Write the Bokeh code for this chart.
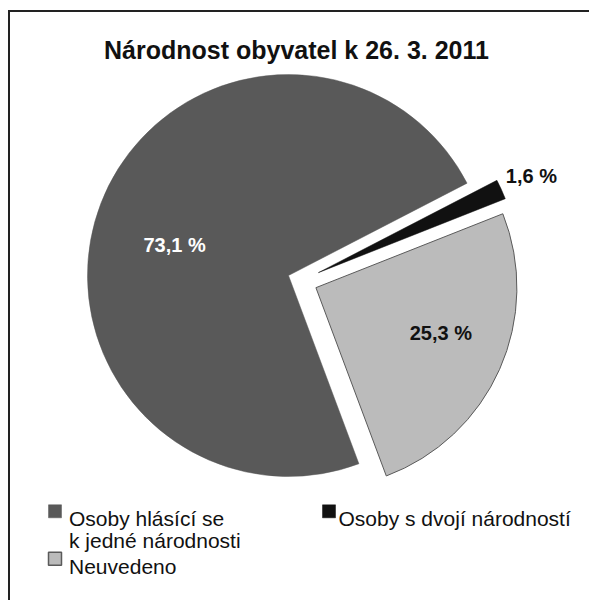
import math
from bokeh.plotting import figure
from bokeh.models import Range1d, ColumnDataSource
from bokeh.embed import file_html
from bokeh.resources import INLINE
from bokeh.core.properties import value

# ---------------- data ----------------
TITLE = "Národnost obyvatel k 26. 3. 2011"
categories = ["Osoby hlásící se k jedné národnosti", "Osoby s dvojí národností", "Neuvedeno"]
legend_lines = [["Osoby hlásící se", "k jedné národnosti"], ["Osoby s dvojí národností"], ["Neuvedeno"]]
shares = [73.1, 1.6, 25.3]
labels = ["73,1 %", "1,6 %", "25,3 %"]

# ---------------- style / layout ----------------
W, H = 589, 600
FONT = "Liberation Sans"
colors = ["#595959", "#111111", "#bbbbbb"]
outlines = [None, None, "#5a5a5a"]
label_colors = ["#ffffff", "#111111", "#111111"]

CX, CY = 280, 317          # pie centre
R = 201                    # pie radius
FIRST_ANGLE = 159.5        # first slice angle, clockwise from 12 o'clock
explode_dist = [0, 30, 30]
explode_turn = [0, -19, 0]
label_r = [118, 234, 133]
label_turn = [6.0, 0.0, 3.9]

p = figure(width=W, height=H, output_backend="svg", toolbar_location=None, title=None,
           x_range=Range1d(-8, W - 8), y_range=Range1d(-8, H - 8), min_border=0,
           x_axis_location=None, y_axis_location=None)
p.grid.visible = False
p.outline_line_color = None
p.background_fill_color = "white"
p.border_fill_color = "white"

# title
p.text(x=[288], y=[542.7], text=[TITLE], text_font=value(FONT), text_font_style="bold",
       text_font_size="25px", text_color="#111111", text_align="center",
       text_baseline="alphabetic")

# pie slices
total = sum(shares)
cum = 0.0
for i, s in enumerate(shares):
    a_start = 90 - FIRST_ANGLE - cum / total * 360.0   # clockwise start (math deg)
    a_end = a_start - s / total * 360.0
    mid = (a_start + a_end) / 2.0
    ed = math.radians(mid + explode_turn[i])
    ox = CX + explode_dist[i] * math.cos(ed)
    oy = CY + explode_dist[i] * math.sin(ed)
    src = ColumnDataSource(dict(x=[ox], y=[oy], sa=[math.radians(a_end)], ea=[math.radians(a_start)]))
    p.wedge(x="x", y="y", radius=R, start_angle="sa", end_angle="ea", source=src,
            fill_color=colors[i],
            line_color=outlines[i] if outlines[i] else colors[i],
            line_width=1 if outlines[i] else 0.5)
    la = math.radians(mid + label_turn[i])
    lx = ox + label_r[i] * math.cos(la)
    ly = oy + label_r[i] * math.sin(la)
    p.text(x=[lx], y=[ly], text=[labels[i]], text_font=value(FONT), text_font_style="bold",
           text_font_size="20px", text_color=label_colors[i], text_align="center",
           text_baseline="middle")
    cum += s

# legend
leg_sq_x = [46.5, 320.5, 46.5]
leg_row_base = [73.7, 73.7, 26.3]
leg_txt_x = [60.5, 330.0, 60.5]
LINE_H = 21.7
SQ = 13
for i in range(len(categories)):
    p.rect(x=[leg_sq_x[i]], y=[leg_row_base[i] + 1 + SQ / 2], width=SQ, height=SQ,
           fill_color=colors[i], line_color=outlines[i] if outlines[i] else colors[i],
           line_width=1.5 if outlines[i] else 0.5)
    for j, line in enumerate(legend_lines[i]):
        p.text(x=[leg_txt_x[i]], y=[leg_row_base[i] - j * LINE_H], text=[line],
               text_font=value(FONT), text_font_size="21px", text_color="#111111",
               text_align="left", text_baseline="alphabetic")

# chart border drawn as thin filled bars (left & top edges inside the picture)
p.quad(left=[-0.5, -0.5], right=[1.5, 580.5], bottom=[-7.5, 580.5], top=[582.5, 582.5],
       fill_color="#222222", line_color=None)

open("out.html", "w").write(file_html(p, INLINE))
